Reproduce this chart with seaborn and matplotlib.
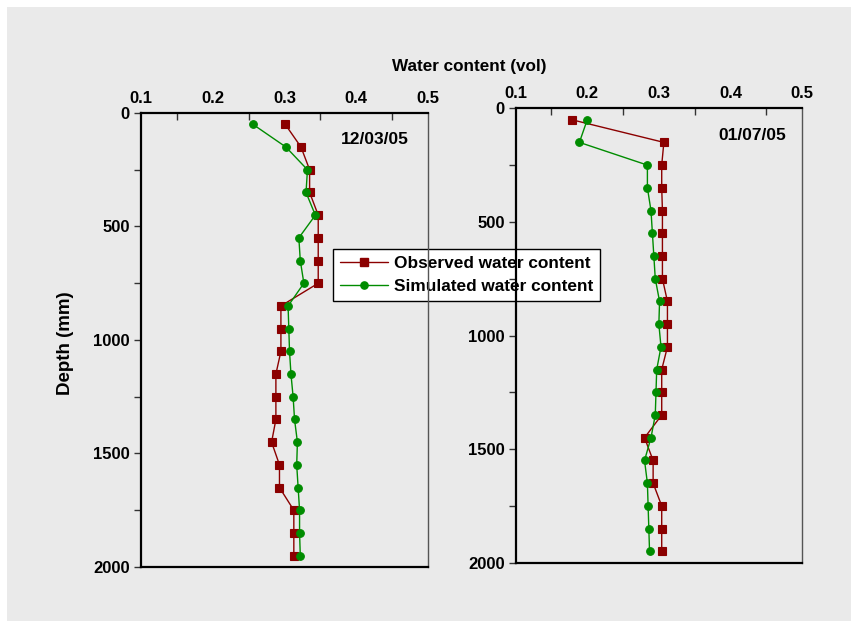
import numpy as np
import pandas as pd
import matplotlib
matplotlib.use("Agg")
import matplotlib.pyplot as plt
from matplotlib.patches import Rectangle
from matplotlib.lines import Line2D
from matplotlib.ticker import MultipleLocator
import seaborn as sns

# Measurement depths (mm)
depth = [50, 150, 250, 350, 450, 550, 650, 750, 850, 950,
         1050, 1150, 1250, 1350, 1450, 1550, 1650, 1750, 1850, 1950]

# Profile of 12/03/05
obs_0312 = [0.301, 0.323, 0.335, 0.335, 0.347, 0.347, 0.347, 0.347, 0.295, 0.295,
            0.295, 0.288, 0.288, 0.288, 0.282, 0.293, 0.293, 0.313, 0.313, 0.313]
sim_0312 = [0.256, 0.302, 0.332, 0.330, 0.343, 0.320, 0.322, 0.327, 0.305, 0.306,
            0.307, 0.309, 0.312, 0.314, 0.318, 0.317, 0.319, 0.321, 0.321, 0.322]

# Profile of 01/07/05
obs_0107 = [0.178, 0.307, 0.304, 0.304, 0.305, 0.305, 0.305, 0.305, 0.312, 0.312,
            0.312, 0.304, 0.304, 0.304, 0.280, 0.292, 0.292, 0.304, 0.304, 0.304]
sim_0107 = [0.200, 0.189, 0.284, 0.284, 0.289, 0.291, 0.293, 0.295, 0.301, 0.300,
            0.303, 0.297, 0.296, 0.295, 0.289, 0.280, 0.284, 0.285, 0.286, 0.287]

dates = ["12/03/05", "01/07/05"]
series_names = ["Observed water content", "Simulated water content"]
x_ticks = [0.1, 0.2, 0.3, 0.4, 0.5]
y_ticks = [0, 500, 1000, 1500, 2000]

sns.set_theme(style="white")
plt.rcParams["font.family"] = ["Liberation Sans", "DejaVu Sans"]
plt.rcParams["text.color"] = "black"
plt.rcParams["xtick.color"] = "black"
plt.rcParams["ytick.color"] = "black"

OBS_COLOR = "#8b0000"
SIM_COLOR = "#008c00"
BG = "#eaeaea"
MS = 5.2

W, H = 851, 621
fig = plt.figure(figsize=(W / 100, H / 100), dpi=100)
fig.patch.set_facecolor("white")
fig.add_artist(Rectangle((7 / W, 0), 1 - 7 / W, 1 - 7 / H, transform=fig.transFigure,
                         facecolor=BG, edgecolor="none", zorder=-10))


def px_rect(x0, y0, x1, y1):
    return [x0 / W, 1 - y1 / H, (x1 - x0) / W, (y1 - y0) / H]


ax1 = fig.add_axes(px_rect(141, 113, 428, 567))
ax2 = fig.add_axes(px_rect(515.7, 108.3, 802, 562.7))

profiles = [(ax1, obs_0312, sim_0312), (ax2, obs_0107, sim_0107)]

for ax, obs, sim in profiles:
    df = pd.DataFrame({"depth": depth, "obs": obs, "sim": sim})
    sns.lineplot(data=df, x="obs", y="depth", sort=False, estimator=None, ax=ax,
                 color=OBS_COLOR, lw=1.0, marker="s", markersize=MS,
                 markeredgecolor=OBS_COLOR, markeredgewidth=0.8, zorder=3)
    sns.lineplot(data=df, x="sim", y="depth", sort=False, estimator=None, ax=ax,
                 color=SIM_COLOR, lw=1.0, marker="o", markersize=MS + 0.3,
                 markeredgecolor=SIM_COLOR, markeredgewidth=0.8, zorder=4)
    ax.set_facecolor("none")
    ax.set_xlim(0.1, 0.5)
    ax.set_ylim(2000, 0)
    ax.set_xlabel("")
    ax.set_ylabel("")
    ax.xaxis.tick_top()
    ax.set_xticks(x_ticks)
    ax.set_xticklabels([f"{t:.1f}" for t in x_ticks])
    ax.xaxis.set_minor_locator(MultipleLocator(0.05))
    ax.set_yticks(y_ticks)
    ax.yaxis.set_minor_locator(MultipleLocator(250))
    ax.tick_params(axis="x", which="major", direction="out", length=0, pad=5,
                   labelsize=12, top=True, bottom=False, labelcolor="black")
    ax.tick_params(axis="x", which="minor", direction="in", length=5, width=1,
                   color="#333333", top=True, bottom=False)
    ax.tick_params(axis="y", which="both", direction="out", length=5, width=1,
                   color="#333333", left=True, labelsize=12, pad=3, labelcolor="black")
    for lab in ax.get_xticklabels() + ax.get_yticklabels():
        lab.set_fontweight("bold")
    for side in ("left", "top", "bottom"):
        ax.spines[side].set_color("black")
        ax.spines[side].set_linewidth(1.6)
    ax.spines["right"].set_color("#555555")
    ax.spines["right"].set_linewidth(1.0)
    for s in ax.spines.values():
        s.set_visible(True)
        s.set_zorder(6)

ax1.text(375 / W, 1 - 140 / H, dates[0], transform=fig.transFigure, ha="center",
         va="center", fontsize=12.5, fontweight="bold", color="black")
ax2.text(752 / W, 1 - 136 / H, dates[1], transform=fig.transFigure, ha="center",
         va="center", fontsize=12.5, fontweight="bold", color="black")

fig.text(469 / W, 1 - 66 / H, "Water content (vol)", ha="center", va="center",
         fontsize=12.3, fontweight="bold", color="black")
fig.text(65 / W, 1 - 343 / H, "Depth (mm)", ha="center", va="center",
         rotation=90, fontsize=13.5, fontweight="bold", color="black")

handles = [
    Line2D([], [], color=OBS_COLOR, lw=1.0, marker="s", markersize=MS,
           markeredgecolor=OBS_COLOR),
    Line2D([], [], color=SIM_COLOR, lw=1.0, marker="o", markersize=MS,
           markeredgecolor=SIM_COLOR),
]
leg = ax1.legend(handles, series_names, loc="upper left",
                 bbox_to_anchor=(333 / W, 1 - 249 / H), bbox_transform=fig.transFigure,
                 frameon=True, fancybox=False, framealpha=1, edgecolor="black",
                 facecolor="white", prop={"weight": "bold", "size": 12.4},
                 handlelength=2.8, handletextpad=0.3, borderpad=0.42,
                 labelspacing=0.45, borderaxespad=0)
for t in leg.get_texts():
    t.set_color("black")
leg.get_frame().set_linewidth(1.0)
leg.set_zorder(2)

fig.savefig("out.png", dpi=100)
